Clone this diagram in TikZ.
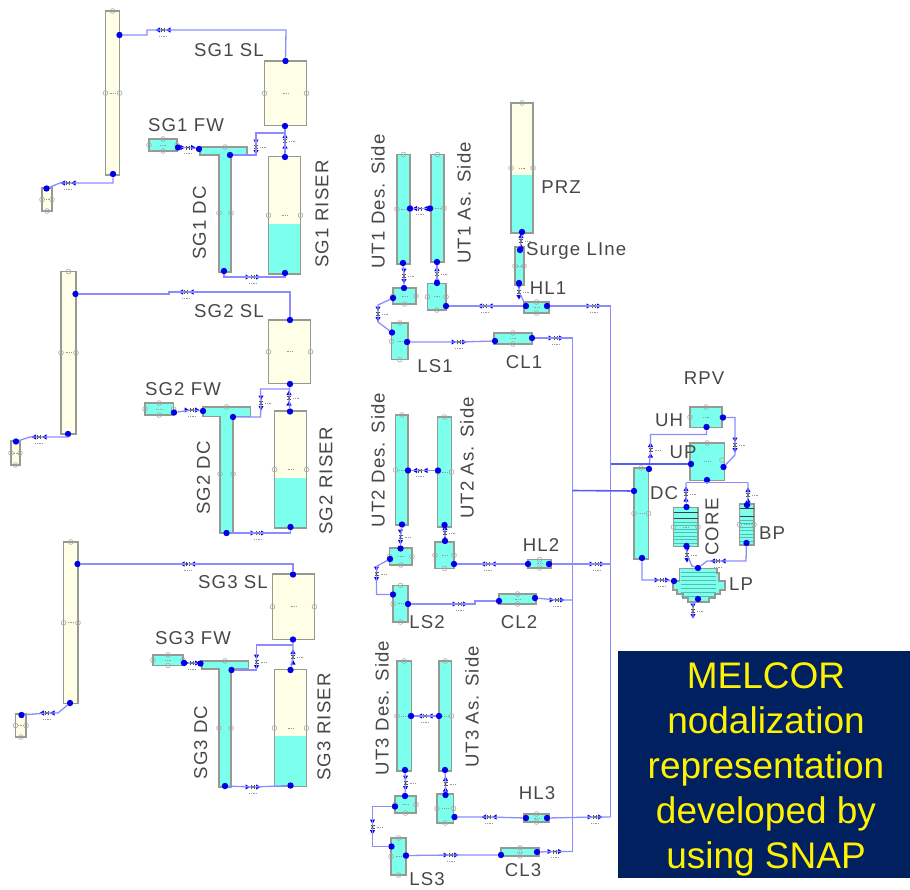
\documentclass[tikz,border=0pt]{standalone}
\usepackage{fontspec}
\setmainfont{Liberation Sans}
\newfontfamily\labfont[LetterSpace=6]{Liberation Sans}
\definecolor{water}{HTML}{7DFFEE}
\definecolor{cream}{HTML}{FFFFE8}
\definecolor{edge}{HTML}{959A93}
\definecolor{pipec}{HTML}{8C8CFF}
\definecolor{busc}{HTML}{5A5AF5}
\definecolor{dotc}{HTML}{0000E6}
\definecolor{navy}{HTML}{002060}
\definecolor{hatchc}{HTML}{55BDB0}
\tikzset{
 x=1pt,y=-1pt,
 volbox/.style={draw=edge,line width=1.2pt,inner sep=0pt,outer sep=0pt},
 pipe/.style={draw=pipec,line width=1.3pt},
 bus/.style={draw=busc,line width=1.6pt},
 dotn/.style={circle,fill=dotc,inner sep=0pt,minimum size=6.4pt},
 valvecore/.style={circle,fill=black!70,inner sep=0pt,minimum size=2.4pt},
 portc/.style={draw=black!35,line width=.6pt},
 tinym/.style={draw=black!40,line width=.9pt,dash pattern=on 1pt off .8pt},
 lab/.style={text=black!72,font=\labfont\fontsize{18.6}{20}\selectfont,inner sep=0pt},
}
\newcommand\vol[6]{% name x1 y1 x2 y2 fill
 \pgfmathsetmacro{\bw}{abs(#4-#2)}\pgfmathsetmacro{\bh}{abs(#5-#3)}
 \pgfmathsetmacro{\bx}{(#4+#2)/2}\pgfmathsetmacro{\by}{(#5+#3)/2}
 \node[volbox,fill=#6,minimum width=\bw pt,minimum height=\bh pt] (#1) at (\bx,\by) {};
 \draw[tinym] (\bx-3,\by) -- (\bx+3,\by);
}
\newcommand\wvol[6]{% name x1 y1 x2 y2 level
 \fill[cream] (#2,#3) rectangle (#4,#6);
 \fill[water] (#2,#6) rectangle (#4,#5);
 \pgfmathsetmacro{\bw}{abs(#4-#2)}\pgfmathsetmacro{\bh}{abs(#5-#3)}
 \pgfmathsetmacro{\bx}{(#4+#2)/2}\pgfmathsetmacro{\by}{(#5+#3)/2}
 \node[volbox,minimum width=\bw pt,minimum height=\bh pt] (#1) at (\bx,\by) {};
 \draw[tinym] (\bx-3,\by) -- (\bx+3,\by);
}
\newcommand\sideports[1]{\draw[portc] (#1.west) circle (2.4pt) (#1.east) circle (2.4pt);}
\newcommand\topport[1]{\draw[portc] (#1.north) circle (2.4pt);}
\newcommand\botport[1]{\draw[portc] (#1.south) circle (2.4pt);}
\newcommand\teeshape[7]{% bar x1 x2, y top, y bar bottom, stem x1 x2, y bottom
 \draw[edge,line width=1.2pt,fill=water] (#1,#3) -- (#2,#3) -- (#2,#4) -- (#6,#4) -- (#6,#7) -- (#5,#7) -- (#5,#4) -- (#1,#4) -- cycle;
}
\newcommand\dn[3]{\node[dotn] (#1) at (#2,#3) {};}
\newcommand\valvebody[4]{%
 \node[valvecore] (#1) at (#2,#3) {};
 \begin{scope}[shift={(#2,#3)},rotate=#4]
  \fill[dotc] (-7.5,-2.6) -- (-7.5,2.6) -- (-3,0) -- cycle;
  \fill[dotc] (3,-2.6) -- (3,2.6) -- (7.5,0) -- cycle;
  \draw[black!70,line width=.7pt] (-1.5,-2) -- (-1.5,2) (1.5,-2) -- (1.5,2);
 \end{scope}}
\newcommand\valveh[4]{\valvebody{#1}{#2}{#3}{#4}\draw[tinym] (#2-4,#3+6) -- (#2+4,#3+6);}
\newcommand\valvev[4]{\valvebody{#1}{#2}{#3}{#4}\draw[tinym] (#2+4,#3) -- (#2+11,#3);}
\begin{document}
\begin{tikzpicture}
\useasboundingbox (0,0) rectangle (910,889);
% ================= SG1
\vol{tubeA}{105.5}{11}{119.5}{175}{cream}\sideports{tubeA}\topport{tubeA}
\vol{slA}{264.5}{61}{306.5}{125.5}{cream}\sideports{slA}
\wvol{riserA}{268.5}{156.5}{300.5}{274}{224}\sideports{riserA}
\teeshape{200}{247}{147}{155}{219}{231}{272}
\draw[portc] (225,147) circle (2.4pt) (219,213) circle (2.4pt) (231,213) circle (2.4pt);
\vol{fwA}{149}{139}{177}{151}{water}\sideports{fwA}\topport{fwA}\botport{fwA}
\vol{tankA}{42}{188}{52}{211}{cream}\sideports{tankA}\botport{tankA}
\dn{a1}{119.5}{35}\dn{a2}{113}{174}\dn{a3}{285.5}{61}\dn{a4}{285}{126}\dn{a5}{285}{157}\dn{a6}{285}{273}
\dn{a7}{230}{155}\dn{a8}{224}{271}\dn{a9}{178}{147.5}\dn{a10}{199}{149}\dn{a11}{46.5}{188.5}
\valveh{av1}{163}{30}{180}\valvev{av2}{285}{141}{90}\valvev{av3}{256}{147}{-90}\valveh{av4}{253}{277}{0}\valveh{av5}{188}{147.5}{0}\valveh{av6}{68}{183}{180}
\draw[pipe] (a1) -- (147,35) -- (147,30) -- (av1) -- (286,30) -- (a3);
\draw[pipe] (a4) -- (av2) -- (a5);
\draw[pipe] (285,133) -- (256,133) -- (av3) -- (256,155) -- (a7);
\draw[pipe] (a8) -- (224,277) -- (av4) -- (285,277) -- (a6);
\draw[pipe] (a9) -- (av5) -- (a10);
\draw[pipe] (a2) -- (113,183) -- (av6) -- (60,183) -- (a11);
\node[lab] (lA1) at (229,50) {SG1 SL};
\node[lab] (lA2) at (186,125) {SG1 FW};
\node[lab,rotate=90] (lA3) at (199.5,223) {SG1 DC};
\node[lab,rotate=90] (lA4) at (322,214) {SG1 RISER};
% ================= SG2
\vol{tubeB}{61}{271.5}{76}{434}{cream}\sideports{tubeB}\topport{tubeB}
\vol{slB}{268.5}{320}{310.5}{383.5}{cream}\sideports{slB}
\wvol{riserB}{274.5}{411}{306.5}{528}{478}\sideports{riserB}
\teeshape{203}{250.5}{407}{416.5}{220}{233}{533}
\draw[portc] (226.5,407) circle (2.4pt) (220,474) circle (2.4pt) (233,474) circle (2.4pt);
\vol{fwB}{145}{403}{173.5}{415}{water}\sideports{fwB}\topport{fwB}\botport{fwB}
\vol{tankB}{11}{441}{20}{465}{cream}\sideports{tankB}\botport{tankB}
\dn{b1}{75.5}{294}\dn{b2}{68}{434}\dn{b3}{290}{320}\dn{b4}{290}{384}\dn{b5}{290}{411.5}\dn{b6}{290.5}{527}
\dn{b7}{233}{417}\dn{b8}{226.5}{533}\dn{b9}{174}{412.5}\dn{b10}{203}{411}\dn{b11}{16}{441.5}
\valveh{bv1}{186}{292}{180}\valvev{bv2}{289}{398}{90}\valvev{bv3}{261}{403}{-90}\valveh{bv4}{258}{533}{0}\valveh{bv5}{192}{410}{0}\valveh{bv6}{39}{437}{180}
\draw[pipe] (b1) -- (169,294) -- (169,292) -- (bv1) -- (290,292) -- (b3);
\draw[pipe] (b4) -- (bv2) -- (b5);
\draw[pipe] (289.5,389) -- (260.5,389) -- (bv3) -- (260.5,417) -- (b7);
\draw[pipe] (b8) -- (bv4) -- (290.5,533) -- (b6);
\draw[pipe] (b9) -- (bv5) -- (b10);
\draw[pipe] (b2) -- (68,437) -- (bv6) -- (30,437) -- (b11);
\node[lab] (lB1) at (229,311) {SG2 SL};
\node[lab] (lB2) at (183,389) {SG2 FW};
\node[lab,rotate=90] (lB3) at (203.5,478) {SG2 DC};
\node[lab,rotate=90] (lB4) at (326,481) {SG2 RISER};
% ================= SG3
\vol{tubeC}{63.5}{542}{78}{703.5}{cream}\sideports{tubeC}\topport{tubeC}
\vol{slC}{272.5}{574}{314.5}{639.5}{cream}\sideports{slC}
\wvol{riserC}{274.5}{669.5}{306.5}{786.5}{736}\sideports{riserC}
\teeshape{202}{248.5}{661}{669}{219}{231}{787}
\draw[portc] (225,661) circle (2.4pt) (219,728) circle (2.4pt) (231,728) circle (2.4pt);
\vol{fwC}{153}{655}{183}{665.5}{water}\sideports{fwC}\topport{fwC}\botport{fwC}
\vol{tankC}{15.5}{714}{26}{737}{cream}\sideports{tankC}\botport{tankC}
\dn{c1}{77.5}{564}\dn{c2}{70}{703}\dn{c3}{293}{574.5}\dn{c4}{293}{639.5}\dn{c5}{290.5}{670}\dn{c6}{290.5}{785.5}
\dn{c7}{231.5}{670}\dn{c8}{225}{786}\dn{c9}{184}{663}\dn{c10}{200.5}{663.5}\dn{c11}{21.5}{715}
\valveh{cv1}{187.5}{564}{180}\valvev{cv2}{293}{657}{90}\valvev{cv3}{256.5}{662}{-90}\valveh{cv4}{253}{787}{0}\valveh{cv5}{192}{663}{0}\valveh{cv6}{47}{713}{180}
\draw[pipe] (c1) -- (cv1) -- (293,564) -- (c3);
\draw[pipe] (c4) -- (cv2) -- (c5);
\draw[pipe] (293,645) -- (256.5,645) -- (cv3) -- (256.5,670) -- (c7);
\draw[pipe] (c8) -- (cv4) -- (c6);
\draw[pipe] (c9) -- (cv5) -- (c10);
\draw[pipe] (c2) -- (58,713) -- (cv6) -- (c11);
\node[lab] (lC1) at (233,582) {SG3 SL};
\node[lab] (lC2) at (193,638) {SG3 FW};
\node[lab,rotate=90] (lC3) at (200.7,742.5) {SG3 DC};
\node[lab,rotate=90] (lC4) at (324,727) {SG3 RISER};
% ================= Loop 1
\vol{desA}{397}{154.5}{410}{264}{water}\sideports{desA}\topport{desA}
\vol{asA}{431}{154.5}{444}{262}{water}\sideports{asA}\topport{asA}
\vol{lowdA}{393}{288}{416}{304}{water}\sideports{lowdA}\botport{lowdA}
\vol{lowaA}{427.5}{283.5}{446}{310}{water}\sideports{lowaA}\botport{lowaA}
\vol{lsA}{391.5}{323}{408}{359.5}{water}\sideports{lsA}\topport{lsA}\botport{lsA}
\wvol{prz}{511}{103}{533}{233}{175}\topport{prz}
\draw[portc] (511,168) circle (2.4pt) (533,168) circle (2.4pt);
\vol{surge}{515}{247}{524}{285}{water}\sideports{surge}
\vol{hlA}{524}{302}{549}{313}{water}\topport{hlA}\botport{hlA}
\vol{clA}{494}{333}{532}{344}{water}\topport{clA}\botport{clA}
\dn{d1}{410}{208.5}\dn{d2}{403}{263}\dn{d3}{430}{208.5}\dn{d4}{437}{262}\dn{d5}{404}{288}\dn{d6}{393}{298}
\dn{d7}{437}{283}\dn{d8}{446}{306}\dn{d9}{392}{332.5}\dn{d10}{407}{342}\dn{d11}{522}{232}\dn{d12}{520}{250}\dn{d13}{519}{283}
\dn{d14}{526}{306}\dn{d15}{547}{306}\dn{d16}{495}{341}\dn{d17}{532}{338}
\valveh{dv1}{420}{208.5}{180}\valvev{dv2}{404}{276}{-90}\valvev{dv3}{437}{274}{90}\valvev{dv4}{378}{314}{-90}
\valveh{dv5}{485}{306}{180}\valveh{dv6}{594}{306}{0}\valveh{dv7}{459}{342}{0}\valveh{dv8}{556}{338}{0}
\valvev{dv9}{521}{241}{90}\valvev{dv10}{519}{292}{-90}
\draw[pipe] (d1) -- (dv1) -- (d3);
\draw[pipe] (d2) -- (dv2) -- (d5);
\draw[pipe] (d4) -- (dv3) -- (d7);
\draw[pipe] (d6) -- (378,305) -- (dv4) -- (378,322) -- (d9);
\draw[pipe] (d8) -- (dv5) -- (d14);
\draw[pipe] (d15) -- (dv6) -- (610.5,306);
\draw[pipe] (d10) -- (dv7) -- (d16);
\draw[pipe] (d17) -- (dv8) -- (572.5,338);
\draw[pipe] (d11) -- (dv9) -- (d12);
\draw[pipe] (d13) -- (dv10) -- (d14);
\node[lab,rotate=90] (lD1) at (378,201.5) {UT1 Des. Side};
\node[lab,rotate=90] (lD2) at (464,203) {UT1 As. Side};
\node[lab] (lD3) at (561,187) {PRZ};
\node[lab,anchor=west] (lD4) at (526,251) {Surge LIne};
\node[lab] (lD5) at (548,288) {HL1};
\node[lab] (lD6) at (435,366) {LS1};
\node[lab] (lD7) at (524,362) {CL1};
% ================= Loop 2
\vol{desB}{395.5}{415}{408}{525}{water}\sideports{desB}\topport{desB}
\vol{asB}{437.5}{417}{451.5}{527}{water}\sideports{asB}\topport{asB}
\vol{lowdB}{389.5}{548}{412}{565}{water}\sideports{lowdB}\botport{lowdB}
\vol{lowaB}{435}{542}{454}{568.5}{water}\sideports{lowaB}\botport{lowaB}
\vol{lsB}{393}{585.5}{408}{622}{water}\sideports{lsB}\topport{lsB}\botport{lsB}
\vol{hlB}{528}{559.5}{551}{568}{water}\topport{hlB}\botport{hlB}
\vol{clB}{499}{594}{536}{604}{water}\topport{clB}\botport{clB}
\dn{e1}{408}{470.5}\dn{e2}{402}{524.5}\dn{e3}{438}{470.5}\dn{e4}{444.5}{525}\dn{e5}{400.5}{548.5}\dn{e6}{390}{559}
\dn{e7}{445}{541}\dn{e8}{454}{564}\dn{e9}{393}{594.5}\dn{e10}{408}{604}\dn{e14}{528}{564}\dn{e15}{549}{564}\dn{e16}{499}{601}\dn{e17}{535}{598}
\valveh{ev1}{420}{470.5}{180}\valvev{ev2}{400.5}{537}{-90}\valvev{ev3}{445}{533}{90}\valvev{ev4}{376.5}{574}{-90}
\valveh{ev5}{488}{564}{180}\valveh{ev6}{597}{564}{0}\valveh{ev7}{460}{604}{0}\valveh{ev8}{557}{600}{0}
\draw[pipe] (e1) -- (ev1) -- (e3);
\draw[pipe] (e2) -- (ev2) -- (e5);
\draw[pipe] (e4) -- (ev3) -- (e7);
\draw[pipe] (e6) -- (377,566) -- (ev4) -- (376.5,594.5) -- (e9);
\draw[pipe] (e8) -- (ev5) -- (e14);
\draw[pipe] (e15) -- (ev6) -- (610.5,564);
\draw[pipe] (e10) -- (ev7) -- (475,604) -- (475,601) -- (e16);
\draw[pipe] (e17) -- (ev8) -- (572.5,600);
\node[lab,rotate=90] (lE1) at (378,460) {UT2 Des. Side};
\node[lab,rotate=90] (lE2) at (467,458) {UT2 As. Side};
\node[lab] (lE3) at (541,545) {HL2};
\node[lab] (lE4) at (427,622) {LS2};
\node[lab] (lE5) at (519,622) {CL2};
% ================= Loop 3
\vol{desC}{397}{661}{411.5}{771}{water}\sideports{desC}\topport{desC}
\vol{asC}{439}{661}{451.5}{771}{water}\sideports{asC}\topport{asC}
\vol{lowdC}{395}{796}{416}{813}{water}\sideports{lowdC}\botport{lowdC}
\vol{lowaC}{437}{794}{453.5}{823}{water}\sideports{lowaC}\botport{lowaC}
\vol{lsC}{391}{838}{406}{875}{water}\sideports{lsC}\topport{lsC}\botport{lsC}
\vol{hlC}{524}{814}{549}{822}{water}\topport{hlC}\botport{hlC}
\vol{clC}{501}{848}{539}{856}{water}\topport{clC}\botport{clC}
\dn{f1}{411}{716}\dn{f2}{405}{770}\dn{f3}{439}{716}\dn{f4}{445}{770}\dn{f5}{405}{796}\dn{f6}{395}{806.5}
\dn{f7}{445.5}{795}\dn{f8}{454.5}{817}\dn{f9}{391.5}{846.5}\dn{f10}{406}{855.5}\dn{f14}{526}{818}\dn{f15}{547}{818}\dn{f16}{501}{855}\dn{f17}{537}{852}
\valveh{fv1}{425}{716}{180}\valvev{fv2}{405.5}{783}{-90}\valvev{fv3}{445.5}{784}{90}\valvev{fv4}{372.5}{827}{-90}
\valveh{fv5}{489}{817}{180}\valveh{fv6}{595}{817}{0}\valveh{fv7}{451}{855}{0}\valveh{fv8}{555}{851.5}{0}
\draw[pipe] (f1) -- (fv1) -- (f3);
\draw[pipe] (f2) -- (fv2) -- (f5);
\draw[pipe] (f4) -- (fv3) -- (f7);
\draw[pipe] (f6) -- (372.5,806.5) -- (fv4) -- (372.5,846.5) -- (f9);
\draw[pipe] (f8) -- (fv5) -- (f14);
\draw[pipe] (f15) -- (fv6) -- (610.5,817);
\draw[pipe] (f10) -- (fv7) -- (f16);
\draw[pipe] (f17) -- (fv8) -- (572.5,851.5);
\node[lab,rotate=90] (lF1) at (382,708) {UT3 Des. Side};
\node[lab,rotate=90] (lF2) at (472,707) {UT3 As. Side};
\node[lab] (lF3) at (537,793) {HL3};
\node[lab] (lF4) at (427,879) {LS3};
\node[lab] (lF5) at (523,870) {CL3};
% ================= RPV
\vol{uh}{690}{407}{722}{427.5}{water}\sideports{uh}\topport{uh}
\vol{up}{690}{443}{724.5}{480.5}{water}\topport{up}
\draw[portc] (722,460) circle (2.4pt);
\vol{dcv}{634}{468}{648.5}{559}{water}\sideports{dcv}\topport{dcv}
\vol{core}{673.5}{507.5}{698}{546.5}{water}\sideports{core}
\vol{bp}{739.5}{504}{754}{545}{water}\sideports{bp}
\foreach \yy in {522,525.5,529,532.5,536,539.5,543}{\draw[hatchc,line width=.6pt] (674,\yy) -- (697.5,\yy);}
\foreach \yy in {520,523.5,527,530.5,534,537.5,541}{\draw[hatchc,line width=.6pt] (740,\yy) -- (753.5,\yy);}
\draw[black!75,line width=1pt] (673.5,512) -- (698,512) (673.5,518) -- (698,518) (739.5,508) -- (754,508) (739.5,516.5) -- (754,516.5);
\draw[edge,line width=1.2pt,fill=water] (679.5,568.5) -- (717,568.5) -- (717,573) -- (719,573) -- (719,581) -- (725,581) -- (725,590) -- (720,590) -- (720,594) -- (715,594) -- (715,598) -- (709,598) -- (709,602) -- (688,602) -- (688,598) -- (683,598) -- (683,594) -- (677,594) -- (677,590) -- (673,590) -- (673,581) -- (679.5,581) -- cycle;
\foreach \yy in {572,576,580,584,588,592,596}{\draw[hatchc,line width=.5pt] (681,\yy) -- (716,\yy);}
\dn{g1}{706.5}{427}\dn{g2}{723}{417.5}\dn{g3}{691}{464}\dn{g4}{723.5}{467}\dn{g5}{707}{480}
\dn{g6}{634}{491}\dn{g7}{649}{469}\dn{g8}{642}{558}\dn{g9}{686.5}{507}\dn{g10}{686.5}{546}\dn{g11}{747}{505}\dn{g12}{746.5}{543}
\dn{g13}{698}{568}\dn{g14}{674}{581}\dn{g15}{698}{599}
\coordinate (lpend) at (693,618);
\valvev{gv1}{650.5}{450}{90}\valvev{gv2}{735}{445}{-90}\valvev{gv3}{686}{494}{90}\valvev{gv4}{748}{495}{90}\valvev{gv5}{687}{555}{-90}
\valveh{gv6}{718}{561}{180}\valveh{gv7}{662}{580}{0}\valvev{gv8}{693}{611}{-90}
\draw[pipe] (g1) -- (706.5,434.5) -- (650.5,434.5) -- (gv1) -- (g7);
\draw[pipe] (g2) -- (735,417.5) -- (gv2) -- (735,455) -- (g4);
\draw[pipe] (686,482.5) -- (748,482.5);
\draw[pipe] (g5) -- (707,482.5);
\draw[pipe] (686,482.5) -- (gv3) -- (g9);
\draw[pipe] (748,482.5) -- (gv4) -- (g11);
\draw[pipe] (g10) -- (gv5) -- (692,566) -- (g13);
\draw[pipe] (g12) -- (746,561) -- (gv6) -- (707,561) -- (g13);
\draw[pipe] (g8) -- (642,580) -- (gv7) -- (g14);
\draw[pipe] (g15) -- (693,604) -- (gv8) -- (lpend);
% headers / buses
\coordinate (busa) at (610.5,306);
\coordinate (busb) at (572.5,338);
\draw[pipe] (busa) -- (610.5,817);
\draw[pipe] (busb) -- (572.5,851.5);
\draw[bus] (572.5,490.5) -- (g6);
\draw[bus] (610.5,464) -- (g3);
\node[lab] (lG1) at (704,378) {RPV};
\node[lab] (lG2) at (669,420) {UH};
\node[lab] (lG3) at (683,452) {UP};
\node[lab] (lG4) at (664,493) {DC};
\node[lab,rotate=90] (lG5) at (712,527) {CORE};
\node[lab] (lG6) at (772,533) {BP};
\node[lab] (lG7) at (741,584) {LP};
% ================= Caption
\node[fill=navy,minimum width=292pt,minimum height=227pt,inner sep=0pt] (capbox) at (764,764.5) {};
\node[inner sep=0pt,align=center,text=yellow,font=\fontsize{37}{45}\selectfont] (cap) at (766,769) {MELCOR\\nodalization\\representation\\developed by\\using SNAP};
\end{tikzpicture}
\end{document}
